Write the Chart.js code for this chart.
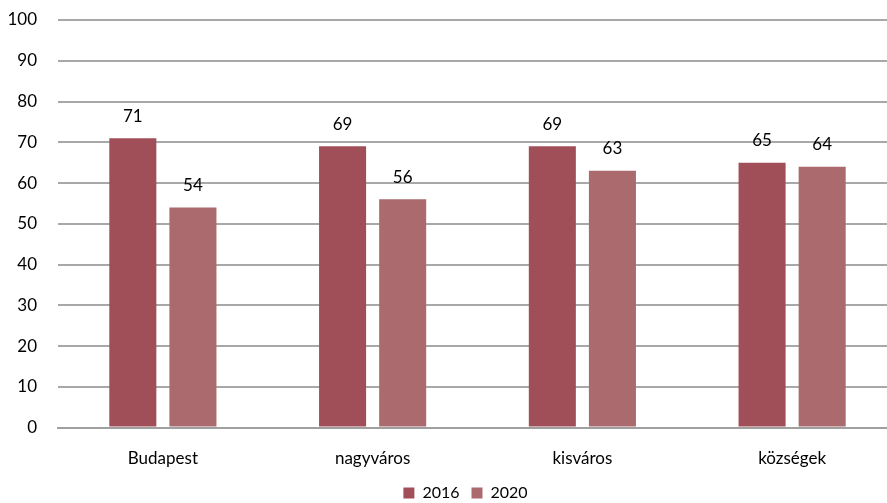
<!DOCTYPE html>
<html><head><meta charset="utf-8">
<script src="https://cdn.jsdelivr.net/npm/chart.js@4/dist/chart.umd.min.js"></script>
<style>html,body{margin:0;padding:0;background:#fff;overflow:hidden;}#wrap{width:897px;height:503px;}</style>
</head><body><div id="wrap"><canvas id="c" width="897" height="503"></canvas></div>
<script>
const categories = ["Budapest", "nagyváros", "kisváros", "községek"];
const series2016 = [71, 69, 69, 65];
const series2020 = [54, 56, 63, 64];
const seriesNames = ["2016", "2020"];
const yTicks = [0,10,20,30,40,50,60,70,80,90,100];

const FONT = "Lato, 'Open Sans', sans-serif";
const labelPlugin = {
  id: 'vlabels',
  afterDatasetsDraw(chart) {
    const ctx = chart.ctx;
    ctx.save();
    ctx.font = "17px " + FONT;
    ctx.fillStyle = "#000";
    ctx.textAlign = "center";
    ctx.textBaseline = "middle";
    chart.data.datasets.forEach((ds, i) => {
      chart.getDatasetMeta(i).data.forEach((bar, j) => {
        ctx.fillText(String(ds.data[j]), bar.x, bar.y - 22);
      });
    });
    ctx.restore();
  }
};
const legendShift = {
  id: 'legendShift',
  afterLayout(chart) {
    const l = chart.legend;
    if (!l) return;
    l.left += 17; l.right += 17;
    l.top -= 9; l.bottom -= 9;
  }
};

new Chart(document.getElementById('c'), {
  type: 'bar',
  data: {
    labels: categories,
    datasets: [
      { label: seriesNames[0], data: series2016, backgroundColor: '#A04F58', categoryPercentage: 0.573, barPercentage: 0.783 },
      { label: seriesNames[1], data: series2020, backgroundColor: '#AB6A6D', categoryPercentage: 0.573, barPercentage: 0.783 }
    ]
  },
  options: {
    responsive: false,
    animation: false,
    layout: { padding: { left: 0, right: 0, top: 20, bottom: -17 } },
    plugins: {
      legend: {
        position: 'bottom',
        labels: { font: { size: 16, family: FONT }, color: '#000', boxWidth: 11, boxHeight: 11, padding: 12 }
      },
      tooltip: { enabled: false }
    },
    scales: {
      x: {
        grid: { display: false },
        border: { display: true, color: '#a0a0a0', width: 2 },
        ticks: { font: { size: 17, family: FONT }, color: '#000', padding: 13 }
      },
      y: {
        min: 0, max: 100,
        afterBuildTicks(ax) { ax.ticks = yTicks.map(v => ({ value: v })); },
        afterFit(ax) { ax.width = 58; ax.paddingTop = 0; ax.paddingBottom = 0; },
        grid: { color: '#a8a8a8', lineWidth: 2, drawTicks: false },
        border: { display: false },
        ticks: { font: { size: 17, family: FONT }, color: '#000', padding: 21 }
      }
    }
  },
  plugins: [labelPlugin, legendShift]
});
</script></body></html>
